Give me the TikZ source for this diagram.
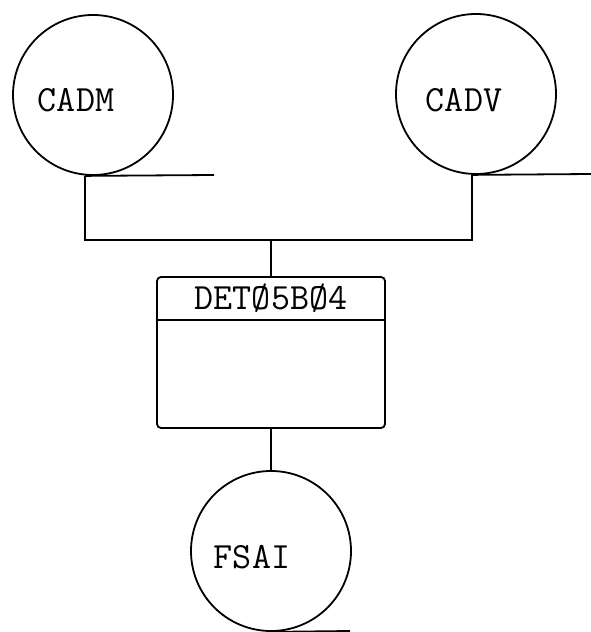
\documentclass[tikz,border=0pt]{standalone}
\usepackage{fontspec}
\usepackage{tikz}
\usetikzlibrary{calc,positioning}

\tikzset{
  filecircle/.style={draw,circle,line width=1.8pt,minimum size=160pt,inner sep=0pt},
  procbox/.style={draw,rectangle,rounded corners=4pt,line width=1.8pt,minimum width=228pt,minimum height=151pt,inner sep=0pt},
  tapeline/.style={line width=1.8pt},
  tw/.style={font=\ttfamily\fontsize{37}{37}\selectfont,inner sep=0pt}
}

\begin{document}
\begin{tikzpicture}[x=1pt,y=1pt]
\useasboundingbox (0,0) rectangle (591,632);

% Input files
\node[filecircle] (cadm) at (93,537) {};
\node[tw] (cadmlabel) at (76,532) {CADM};
\node[filecircle] (cadv) at (476,538) {};
\node[tw] (cadvlabel) at (464,532) {CADV};

% Program
\node[procbox] (det) at (271,279.5) {};
\node[tw] (dettitle) at (271,334) {DETØ5BØ4};
\draw[tapeline] ([yshift=-44pt]det.north west) -- ([yshift=-44pt]det.north east);

% Output file
\node[filecircle] (fsai) at (271,81) {};
\node[tw] (fsailabel) at (252,75) {FSAI};

% Tape lines
\coordinate (busl) at (85,392);
\coordinate (busr) at (472,392);
\coordinate (cadmend) at (214,457);
\coordinate (cadvend) at (591,458);
\coordinate (fsaiend) at (350,1);
\draw[tapeline] (cadm.south -| busl) -- (cadmend);
\draw[tapeline] (cadv.south -| busr) -- (cadvend);
\draw[tapeline] (fsai.south) -- (fsaiend);

% Connections
\draw[tapeline] (cadm.south -| busl) -- (busl) -- (busr) -- (cadv.south -| busr);
\draw[tapeline] (det.north) -- (det.north |- busl);
\draw[tapeline] (det.south) -- (fsai.north);
\end{tikzpicture}
\end{document}
